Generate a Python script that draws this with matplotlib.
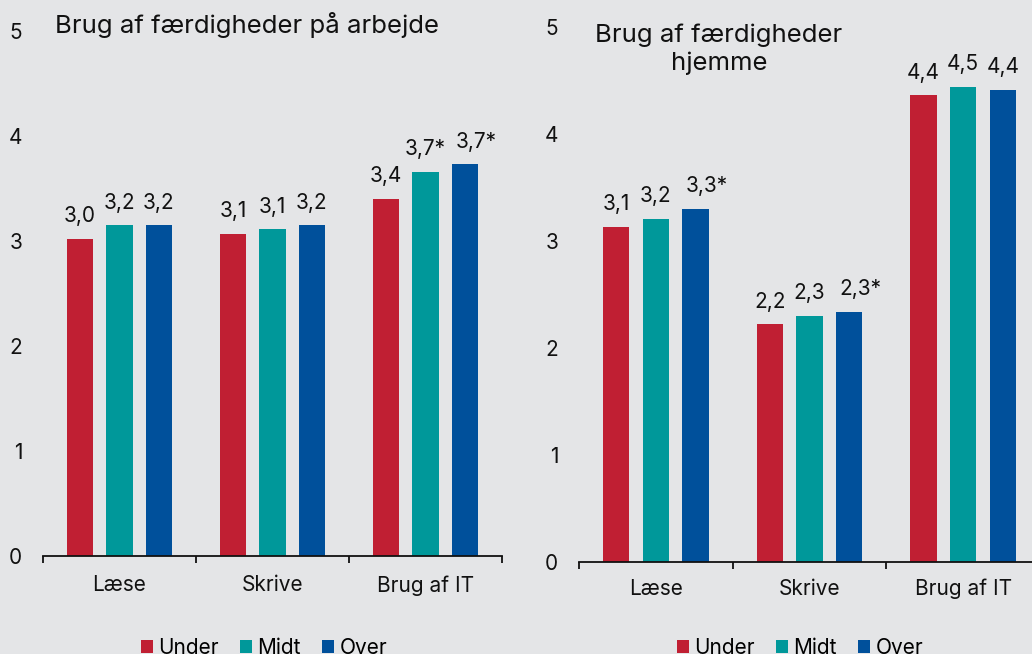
import matplotlib
matplotlib.use("Agg")
import matplotlib.pyplot as plt
from matplotlib.patches import Patch
import numpy as np

plt.rcParams["font.family"] = ["Inter", "DejaVu Sans"]

categories = ["Læse", "Skrive", "Brug af IT"]
groups = ["Under", "Midt", "Over"]
colors = ["#C01F33", "#00989A", "#00509B"]

# Brug af færdigheder på arbejde
work_values = {
    "Under": [3.02, 3.07, 3.40],
    "Midt": [3.15, 3.11, 3.66],
    "Over": [3.15, 3.15, 3.73],
}
work_labels = {
    "Under": ["3,0", "3,1", "3,4"],
    "Midt": ["3,2", "3,1", "3,7*"],
    "Over": ["3,2", "3,2", "3,7*"],
}

# Brug af færdigheder hjemme
home_values = {
    "Under": [3.13, 2.22, 4.36],
    "Midt": [3.21, 2.30, 4.44],
    "Over": [3.30, 2.34, 4.41],
}
home_labels = {
    "Under": ["3,1", "2,2", "4,4"],
    "Midt": ["3,2", "2,3", "4,5"],
    "Over": ["3,3*", "2,3*", "4,4"],
}

BG = "#E4E5E7"
W, H = 1032, 654
FS = 15


def draw_panel(ax, values, labels, xlabel_pad):
    x = np.arange(len(categories))
    offsets = [-0.258, 0.0, 0.258]
    for g, off, c in zip(groups, offsets, colors):
        bars = ax.bar(x + off, values[g], width=0.17, color=c, zorder=2)
        for b, lab in zip(bars, labels[g]):
            # stjerne-labels på sidste søjle er skubbet lidt til højre
            dx = 8 if (g == "Over" and lab.endswith("*")) else 0
            ax.annotate(lab, (b.get_x() + b.get_width() / 2, b.get_height()),
                        xytext=(dx, 12), textcoords="offset points",
                        ha="center", va="baseline", fontsize=FS, color="#111111")
    ax.set_xlim(-0.5, 2.5)
    ax.set_ylim(0, 5)
    ax.set_facecolor(BG)
    for s in ["top", "right", "left"]:
        ax.spines[s].set_visible(False)
    ax.spines["bottom"].set_linewidth(1.3)
    ax.spines["bottom"].set_color("#111111")
    ax.set_xticks(x)
    ax.set_xticklabels(categories, fontsize=FS, color="#111111")
    ax.set_xticks([-0.5, 0.5, 1.5, 2.5], minor=True)
    ax.tick_params(axis="x", which="major", length=0, pad=xlabel_pad)
    ax.tick_params(axis="x", which="minor", length=5, width=1.3, color="#111111")
    ax.set_yticks([0, 1, 2, 3, 4, 5])
    ax.set_yticklabels(["0", "1", "2", "3", "4", "5"], fontsize=FS, color="#111111")
    ax.tick_params(axis="y", length=0, pad=15)


fig = plt.figure(figsize=(W / 100, H / 100), dpi=100)
fig.patch.set_facecolor(BG)

ax1 = fig.add_axes([43 / W, (H - 556) / H, 459 / W, 525 / H])
draw_panel(ax1, work_values, work_labels, 14)
ax2 = fig.add_axes([579 / W, (H - 562) / H, 461 / W, 535 / H])
draw_panel(ax2, home_values, home_labels, 12)

fig.text(55 / W, (H - 33) / H, "Brug af færdigheder på arbejde",
         fontsize=18.5, ha="left", va="baseline", color="#111111")
fig.text(719 / W, (H - 70) / H, "Brug af færdigheder\nhjemme",
         fontsize=18.5, ha="center", va="baseline", linespacing=1.25, color="#111111")

handles = [Patch(facecolor=c, label=g) for g, c in zip(groups, colors)]
for cx in [264, 800]:
    fig.legend(handles=handles, loc="center", bbox_to_anchor=(cx / W, (H - 648) / H),
               ncol=3, frameon=False, fontsize=FS, handlelength=0.6, handleheight=0.6,
               handletextpad=0.25, columnspacing=1.0, borderpad=0, borderaxespad=0)

fig.savefig("out.png", dpi=100, facecolor=BG)
